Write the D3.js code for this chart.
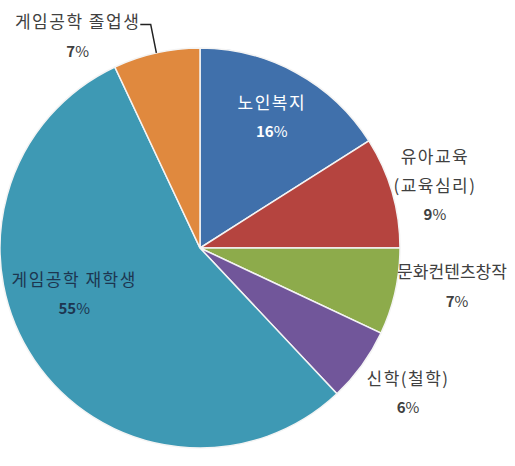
<!DOCTYPE html>
<html>
  <head>
    <meta charset="utf-8">
    <script src="https://d3js.org/d3.v7.min.js"></script>
    <style>
      body { margin: 0; background: #fff; }
      text { font-family: "Noto Sans CJK KR", "Noto Sans", sans-serif; }
    </style>
  </head>
  <body>

    <svg></svg>

    <script type="text/javascript">

      // slices, clockwise from 12 o'clock
      var categories = ["노인복지", "유아교육\n(교육심리)", "문화컨텐츠창작", "신학(철학)", "게임공학 재학생", "게임공학 졸업생"];
      var values = [16, 9, 7, 6, 55, 7];
      var colors = ["#4070ab", "#b5443f", "#8dab4b", "#71569a", "#3e99b4", "#e0893e"];

      // label layout: radius factor and angle shift (degrees) from slice middle
      var labelLayout = [
        {r: 0.745, da: 0,     fill: "#ffffff"},
        {r: 1.215, da: 1.4,   fill: "#404040"},
        {r: 1.30,  da: -4,    fill: "#404040"},
        {r: 1.27,  da: -1,    fill: "#404040"},
        {r: 0.67,  da: 14,    fill: "#1d3650"},
        {r: 1.22,  da: -17.5, fill: "#404040", leader: true}
      ];

      var width = 515, height = 466, radius = 200;
      var cx = 200, cy = 248, lineH = 29;

      var svg = d3.select("svg")
                  .attr("width", width)
                  .attr("height", height);

      var g = svg.append("g").attr("transform", "translate(" + cx + "," + cy + ")");

      var pie = d3.pie().sort(null).value(d => d.value);
      var arc = d3.arc().innerRadius(0).outerRadius(radius);

      var data = categories.map((c, i) => ({name: c, value: values[i], color: colors[i], lay: labelLayout[i]}));
      var arcs = pie(data);

      g.selectAll("path")
        .data(arcs)
        .join("path")
        .attr("d", arc)
        .attr("fill", d => d.data.color)
        .attr("stroke", "#f4f4f4")
        .attr("stroke-width", 1.5);

      var polar = (ang, r) => [Math.sin(ang) * r, -Math.cos(ang) * r];
      var maxRight = width - cx - 8;

      arcs.forEach(function (d) {
        var lay = d.data.lay;
        var mid = (d.startAngle + d.endAngle) / 2;
        var p = polar(mid + lay.da * Math.PI / 180, radius * lay.r);
        var lines = d.data.name.split("\n");
        var n = lines.length + 1;
        var y0 = p[1] - (n - 1) * lineH / 2;

        var t = g.append("g");
        lines.forEach(function (l, k) {
          var tx = t.append("text")
            .attr("x", p[0]).attr("y", y0 + k * lineH)
            .attr("dy", "0.35em")
            .attr("text-anchor", "middle")
            .attr("font-size", 17)
            .attr("letter-spacing", 1.5)
            .attr("fill", lay.fill)
            .text(l);
          // squeeze a label that would run past the right edge
          var b = tx.node().getBBox();
          if (b.x + b.width > maxRight) {
            tx.attr("text-anchor", "start").attr("x", b.x)
              .attr("letter-spacing", 0)
              .attr("textLength", maxRight - b.x)
              .attr("lengthAdjust", "spacingAndGlyphs");
          }
        });
        var pct = t.append("text")
          .attr("x", p[0]).attr("y", y0 + lines.length * lineH)
          .attr("dy", "0.35em")
          .attr("text-anchor", "middle")
          .attr("font-size", 15)
          .attr("font-weight", "bold")
          .attr("fill", lay.fill)
          .text(d.data.value);
        pct.append("tspan").attr("font-weight", "normal").text("%");

        if (lay.leader) {
          var first = t.select("text").node().getBBox();
          var edge = polar(mid, radius);
          var elbow = polar(mid, radius * 1.13);
          var ly = y0 + 2;
          g.append("polyline")
            .attr("points", [[first.x + first.width, ly], [elbow[0], ly], edge].map(q => q.join(",")).join(" "))
            .attr("fill", "none")
            .attr("stroke", "#222")
            .attr("stroke-width", 1.5);
        }
      });

    </script>
  </body>
</html>
